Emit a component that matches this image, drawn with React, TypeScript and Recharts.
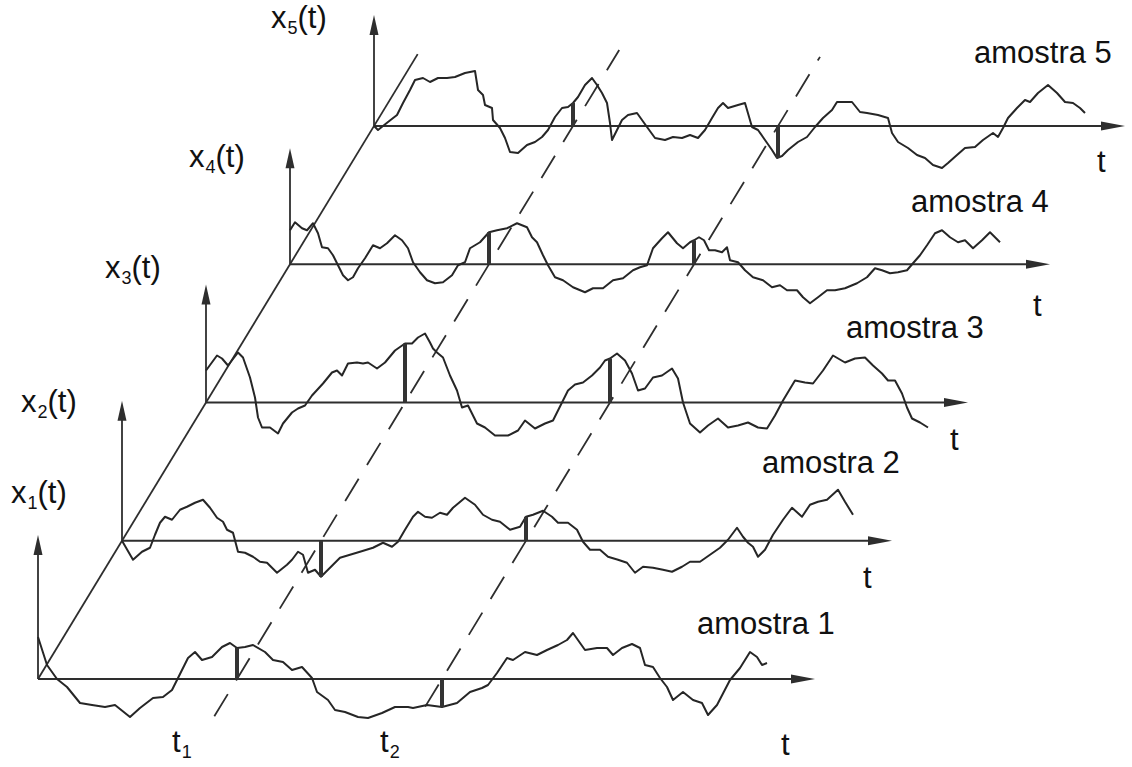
import { ComposedChart, Line, Scatter, XAxis, YAxis } from "recharts";

// Ensemble of a random process: five sample functions x_k(t) stacked along an
// oblique "sample" axis, with the observation instants t1 and t2 drawn through all of them.

const WIDTH = 1132;
const HEIGHT = 767;

// [t, x(t)] pairs for each sample function (t from the sample's own origin)
const amostra1: [number, number][] = [
  [0, 42], [9, 14], [19, 0], [29, -8], [42, -24], [54, -26], [67, -28], [77, -26], [92, -38],
  [102, -29], [115, -19], [125, -18], [134, -11], [140, 1], [150, 21], [157, 27], [164, 19],
  [174, 22], [184, 32], [192, 36], [199, 31], [207, 32], [215, 34], [227, 27], [235, 19],
  [245, 17], [254, 9], [264, 12], [274, 1], [279, -13], [290, -21], [297, -31], [307, -33],
  [320, -38], [330, -39], [344, -34], [357, -28], [370, -28], [375, -29], [389, -26],
  [404, -28], [419, -24], [432, -13], [444, -9], [450, -6], [459, 6], [469, 21], [475, 19],
  [487, 27], [499, 24], [509, 29], [520, 34], [529, 39], [535, 46], [547, 29], [559, 31],
  [569, 31], [575, 24], [584, 31], [594, 35], [602, 31], [607, 14], [615, 12], [622, 1],
  [629, -8], [635, -21], [645, -13], [655, -21], [664, -24], [670, -36], [679, -26],
  [692, -1], [702, 11], [712, 27], [719, 22], [724, 14], [729, 16],
];

const amostra2: [number, number][] = [
  [0, 0], [11, -19], [20, -11], [28, -7], [33, 6], [38, 18], [43, 24], [50, 21], [58, 31],
  [65, 34], [73, 38], [81, 41], [88, 33], [95, 23], [101, 19], [105, 11], [111, 8],
  [116, -11], [123, -12], [131, -16], [138, -21], [145, -22], [155, -32], [165, -24],
  [170, -19], [176, -11], [181, -14], [186, -32], [193, -29], [199, -36], [208, -27],
  [218, -17], [228, -14], [238, -11], [251, -7], [261, -2], [270, -6], [276, -1], [283, 11],
  [291, 24], [296, 29], [303, 24], [310, 23], [318, 28], [325, 26], [331, 33], [343, 43],
  [353, 36], [361, 26], [370, 21], [378, 19], [388, 11], [398, 14], [404, 24], [411, 26],
  [421, 30], [430, 24], [436, 18], [446, 18], [455, 11], [461, -1], [468, -9], [478, -9],
  [486, -16], [496, -19], [505, -22], [513, -32], [521, -26], [531, -27], [541, -29],
  [550, -31], [560, -26], [568, -21], [578, -21], [588, -14], [598, -7], [606, 1], [615, 13],
  [621, 4], [626, -2], [631, -6], [636, -16], [643, -9], [651, 6], [661, 21], [670, 33],
  [680, 24], [688, 36], [696, 39], [705, 41], [716, 51], [723, 39], [731, 26],
];

const amostra3: [number, number][] = [
  [0, 32], [11, 47], [16, 44], [22, 37], [32, 50], [37, 45], [44, 25], [49, 5], [52, -15],
  [56, -25], [64, -25], [72, -31], [77, -21], [86, -10], [92, -6], [99, -3], [106, 7],
  [117, 19], [126, 30], [131, 32], [136, 27], [142, 39], [151, 40], [157, 39], [162, 40],
  [171, 34], [179, 40], [189, 52], [199, 59], [206, 59], [212, 65], [219, 69], [224, 60],
  [227, 54], [231, 50], [237, 45], [244, 27], [251, 12], [256, -5], [262, -3], [271, -21],
  [279, -25], [289, -33], [302, -33], [312, -28], [319, -18], [329, -26], [339, -21],
  [347, -18], [356, 0], [362, 12], [369, 18], [377, 20], [386, 27], [394, 35], [399, 42],
  [404, 44], [411, 49], [419, 42], [426, 29], [432, 12], [439, 14], [447, 25], [456, 27],
  [466, 34], [472, 24], [477, 0], [484, -21], [494, -30], [502, -23], [512, -16], [522, -25],
  [532, -23], [542, -20], [552, -25], [561, -26], [569, -13], [577, 2], [589, 22], [599, 20],
  [607, 19], [617, 32], [627, 47], [639, 40], [649, 44], [659, 45], [667, 37], [676, 29],
  [682, 22], [689, 22], [696, 9], [701, -5], [706, -16], [714, -20], [722, -25],
];

const amostra4: [number, number][] = [
  [0, 34], [5, 42], [12, 36], [17, 34], [23, 41], [28, 31], [32, 17], [38, 16], [43, 9],
  [48, -1], [53, -11], [58, -16], [63, -13], [68, -4], [75, 6], [83, 19], [90, 16], [97, 21],
  [105, 29], [112, 24], [118, 16], [123, 2], [130, -8], [137, -16], [145, -19], [153, -18],
  [162, -11], [168, -1], [175, 2], [180, 16], [190, 22], [199, 32], [207, 34], [217, 36],
  [227, 41], [237, 37], [242, 27], [247, 22], [253, 9], [258, -1], [265, -13], [273, -16],
  [283, -23], [295, -28], [303, -24], [313, -24], [323, -16], [333, -14], [343, -6],
  [350, -3], [357, -1], [363, 16], [372, 26], [378, 32], [387, 21], [393, 16], [400, 22],
  [404, 24], [409, 27], [414, 24], [419, 14], [425, 14], [432, 12], [437, 17], [440, 4],
  [448, 2], [455, -6], [463, -13], [473, -16], [482, -23], [490, -21], [497, -26],
  [507, -26], [513, -33], [520, -39], [528, -33], [537, -26], [545, -26], [555, -24],
  [567, -19], [577, -13], [585, -4], [592, -6], [600, -9], [608, -8], [617, -6], [623, 1],
  [630, 9], [637, 19], [645, 31], [652, 34], [660, 27], [668, 22], [675, 24], [683, 16],
  [692, 24], [700, 32], [705, 27], [710, 22],
];

const amostra5: [number, number][] = [
  [0, 0], [4, -4], [14, 4], [23, 11], [29, 23], [36, 36], [41, 46], [49, 48], [56, 44],
  [64, 48], [73, 48], [81, 49], [91, 53], [101, 55], [104, 36], [109, 31], [111, 21],
  [118, 18], [119, 6], [126, -2], [131, -12], [136, -26], [144, -27], [153, -19],
  [161, -16], [168, -11], [174, -4], [181, 9], [188, 18], [194, 19], [199, 23], [204, 29],
  [211, 41], [218, 48], [223, 41], [228, 33], [233, 23], [236, 3], [238, -14], [243, -4],
  [248, 6], [254, 11], [263, 13], [268, 6], [273, -1], [281, -12], [291, -14], [299, -11],
  [308, -12], [316, -9], [324, -12], [331, -4], [338, 8], [344, 18], [349, 23], [354, 18],
  [364, 21], [371, 23], [378, -1], [384, -4], [391, -14], [398, -24], [403, -32],
  [408, -30], [414, -24], [424, -16], [433, -11], [441, -1], [449, 8], [458, 16], [463, 24],
  [478, 24], [486, 14], [493, 13], [504, 11], [514, 8], [518, -7], [524, -16], [534, -22],
  [543, -29], [551, -32], [559, -39], [568, -42], [574, -37], [583, -29], [591, -22],
  [601, -21], [609, -14], [619, -7], [624, -11], [629, -2], [634, 8], [643, 18], [651, 26],
  [656, 24], [664, 33], [674, 41], [683, 33], [691, 24], [699, 23], [706, 18], [711, 13],
];

const amostras = [amostra1, amostra2, amostra3, amostra4, amostra5];

// observation instants and the value of each sample there
const T1 = 199;
const T2 = 404;
const valoresT1 = [31, -36, 59, 32, 23];
const valoresT2 = [-28, 24, 44, 24, -32];

const rotulosAmostra = ["amostra 1", "amostra 2", "amostra 3", "amostra 4", "amostra 5"];
const rotulosEixo = ["1", "2", "3", "4", "5"];

// layout of the oblique projection
const ORIGEM = { x: 38, y: 679 };
const PASSO = { x: 84, y: -138.25 };
const comprimentoEixoT = [777, 770, 762, 760, 751];
const alturaEixoX = [144, 140, 118, 116, 111];
const posRotuloX = [
  [11, 503], [21, 412], [105, 278], [189, 167], [271, 28],
];
const posRotuloAmostra = [
  [697, 634], [762, 473], [846, 338], [911, 212], [974, 63],
];
const posRotuloT = [
  [781, 755], [863, 588], [950, 450], [1033, 316], [1097, 172],
];
const posInstantes = [
  [172, 752], [380, 752],
];

const TRACO = "#2e2e2e";
const FONTE = "'Liberation Sans', Arial, Helvetica, sans-serif";

type Ponto = { px: number; py: number; dir?: "right" | "up"; texto?: string; sub?: string; resto?: string };

const projetar = (nivel: number, t: number, v: number): Ponto => ({
  px: ORIGEM.x + nivel * PASSO.x + t,
  py: ORIGEM.y + nivel * PASSO.y - v,
});

const PontaSeta = (props: any) => {
  const { cx, cy, payload } = props;
  if (cx == null || cy == null) return null;
  const pts =
    payload.dir === "right"
      ? `${cx},${cy} ${cx - 24},${cy - 4.5} ${cx - 24},${cy + 4.5}`
      : `${cx},${cy} ${cx - 4.5},${cy + 20} ${cx + 4.5},${cy + 20}`;
  return <polygon points={pts} fill={TRACO} />;
};

const Rotulo = (props: any) => {
  const { cx, cy, payload } = props;
  if (cx == null || cy == null) return null;
  return (
    <text x={cx} y={cy} fontFamily={FONTE} fontSize={31} fill="#111">
      <tspan>{payload.texto}</tspan>
      {payload.sub && (
        <tspan fontSize={18} dy={6} dx={1}>
          {payload.sub}
        </tspan>
      )}
      {payload.resto && <tspan dy={payload.sub ? -6 : 0}>{payload.resto}</tspan>}
    </text>
  );
};

export default function App() {
  const curvas = amostras.map((a, k) => a.map(([t, v]) => projetar(k, t, v)));
  const eixosT = amostras.map((_, k) => [projetar(k, 0, 0), projetar(k, comprimentoEixoT[k] - 20, 0)]);
  const eixosX = amostras.map((_, k) => [projetar(k, 0, 0), projetar(k, 0, alturaEixoX[k] - 18)]);
  const obliquo = [projetar(0, 0, 0), projetar(4.52, 0, 0)];
  const tracejados = [
    [projetar(-0.27, T1, 0), projetar(4.55, T1, 0)],
    [projetar(-0.2, T2, 0), projetar(4.5, T2, 0)],
  ];
  const marcas = amostras.flatMap((_, k) => [
    [projetar(k, T1, 0), projetar(k, T1, valoresT1[k])],
    [projetar(k, T2, 0), projetar(k, T2, valoresT2[k])],
  ]);

  const setas: Ponto[] = amostras.flatMap((_, k) => [
    { ...projetar(k, comprimentoEixoT[k], 0), dir: "right" as const },
    { ...projetar(k, 0, alturaEixoX[k]), dir: "up" as const },
  ]);

  const rotulos: Ponto[] = [
    ...posRotuloX.map(([x, y], k) => ({ px: x, py: y, texto: "x", sub: rotulosEixo[k], resto: "(t)" })),
    ...posRotuloAmostra.map(([x, y], k) => ({ px: x, py: y, texto: rotulosAmostra[k] })),
    ...posRotuloT.map(([x, y]) => ({ px: x, py: y, texto: "t" })),
    { px: posInstantes[0][0], py: posInstantes[0][1], texto: "t", sub: "1" },
    { px: posInstantes[1][0], py: posInstantes[1][1], texto: "t", sub: "2" },
  ];

  return (
    <div style={{ position: "absolute", left: 0, top: 0, width: WIDTH, height: HEIGHT, background: "#fff" }}>
      <ComposedChart width={WIDTH} height={HEIGHT} margin={{ top: 0, right: 0, bottom: 0, left: 0 }}>
        <XAxis type="number" dataKey="px" domain={[0, WIDTH]} hide allowDataOverflow />
        <YAxis type="number" dataKey="py" domain={[0, HEIGHT]} reversed hide allowDataOverflow />

        <Line data={obliquo} dataKey="py" stroke={TRACO} strokeWidth={1.8} dot={false} isAnimationActive={false} />
        {tracejados.map((d, i) => (
          <Line
            key={`tr${i}`}
            data={d}
            dataKey="py"
            stroke={TRACO}
            strokeWidth={1.8}
            strokeDasharray="26 16"
            dot={false}
            isAnimationActive={false}
          />
        ))}
        {eixosT.map((d, k) => (
          <Line key={`et${k}`} data={d} dataKey="py" stroke={TRACO} strokeWidth={2} dot={false} isAnimationActive={false} />
        ))}
        {eixosX.map((d, k) => (
          <Line key={`ex${k}`} data={d} dataKey="py" stroke={TRACO} strokeWidth={1.8} dot={false} isAnimationActive={false} />
        ))}
        {curvas.map((d, k) => (
          <Line
            key={`c${k}`}
            data={d}
            dataKey="py"
            type="linear"
            stroke="#262626"
            strokeWidth={2}
            strokeLinejoin="round"
            dot={false}
            isAnimationActive={false}
          />
        ))}
        {marcas.map((d, i) => (
          <Line key={`m${i}`} data={d} dataKey="py" stroke="#333" strokeWidth={4} dot={false} isAnimationActive={false} />
        ))}
        <Scatter data={setas} shape={PontaSeta} isAnimationActive={false} />
        <Scatter data={rotulos} shape={Rotulo} isAnimationActive={false} />
      </ComposedChart>
    </div>
  );
}
